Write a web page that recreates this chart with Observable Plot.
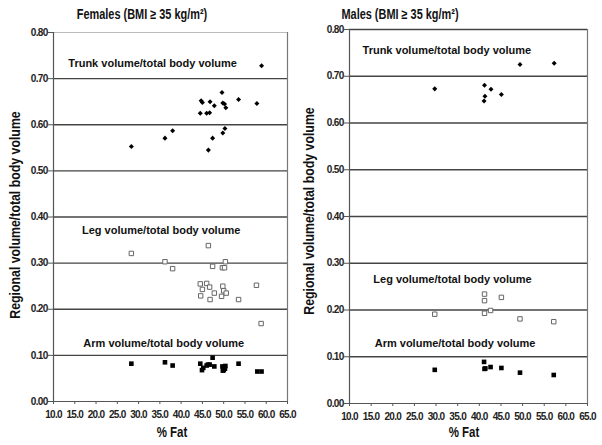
<!DOCTYPE html>
<html><head><meta charset="utf-8">
<script src="https://cdn.jsdelivr.net/npm/d3@7"></script>
<script src="https://cdn.jsdelivr.net/npm/@observablehq/plot@0.6"></script>
<style>
body{margin:0;background:#fff;}
#wrap{position:relative;width:602px;height:445px;overflow:hidden;font-family:"Liberation Sans",Arial,sans-serif;color:#111;}
.panel{position:absolute;top:0;}
.lbl{position:absolute;font-weight:bold;white-space:nowrap;}
.title{font-size:14px;transform:translate(-50%,-50%) scaleX(0.78);}
.ylab{font-size:14px;transform:translate(-50%,-50%) rotate(-90deg) scaleX(0.88);}
.xlab{font-size:14px;transform:translate(-50%,-50%) scaleX(0.82);}
g[aria-label$="tick label"]{letter-spacing:-0.7px;}
</style></head>
<body><div id="wrap"></div>
<script>
// ---------- data ----------
const xTicks = [10,15,20,25,30,35,40,45,50,55,60,65];
const yTicks = [0,0.1,0.2,0.3,0.4,0.5,0.6,0.7,0.8];
const panelTitles = ["Females (BMI \u2265 35 kg/m\u00B2)", "Males (BMI \u2265 35 kg/m\u00B2)"];
const seriesNames = ["Trunk volume/total body volume","Leg volume/total body volume","Arm volume/total body volume"];
const yAxisLabel = "Regional volume/total body volume";
const xAxisLabel = "% Fat";

// annotation anchors (data coords)
const femLabelFat = [33.3, 35.3, 35.9];
const femLabelRatio = [0.733, 0.371, 0.126];
const maleLabelFat = [32.5, 33.8, 34.4];
const maleLabelRatio = [0.756, 0.266, 0.1285];

// Females
const femTrunkFat   = [58.9,28.3,36.2,38.0,44.7,45.0,44.5,46.0,46.7,46.8,46.4,47.8,47.4,49.6,49.8,50.2,50.5,49.8,50.3,53.5,57.8];
const femTrunkRatio = [0.728,0.553,0.571,0.587,0.652,0.648,0.625,0.625,0.626,0.650,0.545,0.641,0.571,0.670,0.647,0.645,0.637,0.582,0.592,0.655,0.646];
const femLegFat     = [28.3,36.2,38.0,46.4,47.4,49.7,50.2,50.4,44.5,46.0,46.7,45.0,47.8,44.6,46.8,49.8,50.0,49.5,50.6,53.5,57.7,58.8];
const femLegRatio   = [0.321,0.303,0.288,0.338,0.293,0.290,0.290,0.303,0.255,0.256,0.248,0.243,0.235,0.229,0.221,0.250,0.240,0.228,0.235,0.221,0.252,0.169];
const femArmFat     = [28.3,36.2,38.0,44.5,44.9,45.2,46.0,46.3,46.7,47.4,47.8,49.7,50.0,50.4,49.8,50.3,53.5,57.9,58.9];
const femArmRatio   = [0.082,0.085,0.078,0.082,0.068,0.073,0.078,0.080,0.080,0.095,0.076,0.076,0.068,0.077,0.067,0.071,0.082,0.065,0.065];

// Males
const maleTrunkFat   = [29.7,41.2,41.3,41.1,42.7,45.1,49.4,57.3];
const maleTrunkRatio = [0.673,0.681,0.657,0.647,0.672,0.661,0.725,0.728];
const maleLegFat     = [29.7,41.2,41.2,41.2,42.6,45.1,49.4,57.2];
const maleLegRatio   = [0.191,0.234,0.220,0.193,0.199,0.227,0.181,0.175];
const maleArmFat     = [29.7,41.1,41.2,41.4,42.6,45.1,49.4,57.2];
const maleArmRatio   = [0.072,0.089,0.074,0.075,0.078,0.076,0.066,0.061];

// ---------- build ----------
const zip = (xs, ys) => xs.map((x,i)=>({x, y: ys[i]}));
const tickFont = "'Liberation Sans',Arial,sans-serif";

function panel(opts){
  const {width, ml, mr, mt, mb, trunk, leg, arm, labFat, labRatio, topColor, topWidth} = opts;
  const labels = seriesNames.map((t,i)=>({t, x: labFat[i], y: labRatio[i]}));
  return Plot.plot({
    width, height: 445,
    marginLeft: ml, marginRight: mr, marginTop: mt, marginBottom: mb,
    style: {fontFamily: tickFont, fontSize: "10px", fontWeight: "bold", background: "transparent", color: "#222"},
    x: {domain: [10,65], ticks: xTicks, tickFormat: ".1f", label: null},
    y: {domain: [0,0.8], ticks: yTicks, tickFormat: ".2f", label: null},
    marks: [
      Plot.ruleY(yTicks.filter(v=>v>0 && v<0.8), {stroke: "#444", strokeWidth: 1.3}),
      Plot.ruleY([0.8], {stroke: topColor, strokeWidth: topWidth}),
      Plot.ruleX([65], {stroke: "#777", strokeWidth: 1.2}),
      Plot.ruleX([10], {stroke: "#555", strokeWidth: 1.2}),
      Plot.ruleY([0], {stroke: "#555", strokeWidth: 1.2}),
      Plot.axisY({ticks: yTicks, tickFormat: ".2f", tickSize: 5, tickPadding: 1, label: null, stroke: "#555"}),
      Plot.axisX({ticks: xTicks, tickFormat: ".1f", tickSize: 3, tickPadding: 6, label: null, stroke: "#555"}),
      Plot.text(labels, {x: "x", y: "y", text: "t", fontSize: 11, fontWeight: "bold", fontFamily: "'Liberation Sans',Arial,sans-serif", fill: "#111"}),
      Plot.dot(zip(leg[0], leg[1]), {x: "x", y: "y", symbol: "square", r: 2.5, stroke: "#666", strokeWidth: 1, fill: "white"}),
      Plot.dot(zip(arm[0], arm[1]), {x: "x", y: "y", symbol: "square", r: 2.6, fill: "#000", stroke: "none"}),
      Plot.dot(zip(trunk[0], trunk[1]), {x: "x", y: "y", symbol: "square", rotate: 45, r: 2.0, fill: "#000", stroke: "none"})
    ]
  });
}

const wrap = document.getElementById("wrap");
const left = panel({width: 300, ml: 53, mr: 13, mt: 32, mb: 44,
  trunk: [femTrunkFat, femTrunkRatio], leg: [femLegFat, femLegRatio], arm: [femArmFat, femArmRatio],
  labFat: femLabelFat, labRatio: femLabelRatio, topColor: "#bbb", topWidth: 1});
const right = panel({width: 302, ml: 49, mr: 15, mt: 29, mb: 42,
  trunk: [maleTrunkFat, maleTrunkRatio], leg: [maleLegFat, maleLegRatio], arm: [maleArmFat, maleArmRatio],
  labFat: maleLabelFat, labRatio: maleLabelRatio, topColor: "#444", topWidth: 1.3});
const lp = document.createElement("div"); lp.className = "panel"; lp.style.left = "0px"; lp.appendChild(left); wrap.appendChild(lp);
const rp = document.createElement("div"); rp.className = "panel"; rp.style.left = "300px"; rp.appendChild(right); wrap.appendChild(rp);

function addLabel(text, cls, x, y){
  const d = document.createElement("div");
  d.className = "lbl " + cls; d.textContent = text;
  d.style.left = x + "px"; d.style.top = y + "px";
  wrap.appendChild(d);
}
addLabel(panelTitles[0], "title", 142, 14);
addLabel(panelTitles[1], "title", 400, 14);
addLabel(yAxisLabel, "ylab", 15, 215);
addLabel(yAxisLabel, "ylab", 309, 211);
addLabel(xAxisLabel, "xlab", 172, 432);
addLabel(xAxisLabel, "xlab", 464, 432);
</script>
</body></html>
